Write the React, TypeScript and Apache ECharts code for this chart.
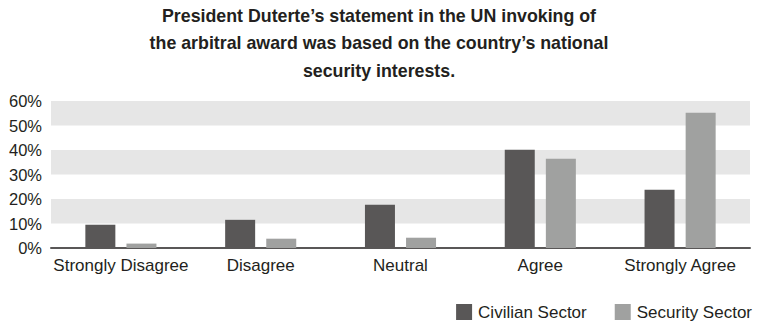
import React, { useEffect, useRef } from "react";
import * as echarts from "echarts";

const categories = ["Strongly Disagree", "Disagree", "Neutral", "Agree", "Strongly Agree"];
const civilian = [9.5, 11.5, 17.7, 40.1, 23.8];
const security = [1.8, 3.8, 4.2, 36.4, 55.2];
const titleText =
  "President Duterte\u2019s statement in the UN invoking of\nthe arbitral award was based on the country\u2019s national\nsecurity interests.";

const FONT = "'Liberation Sans', Arial, Helvetica, sans-serif";

export default function App() {
  const ref = useRef<HTMLDivElement>(null);
  useEffect(() => {
    if (!ref.current) return;
    const chart = echarts.init(ref.current, null, { renderer: "svg" });
    chart.setOption({
      animation: false,
      backgroundColor: "#ffffff",
      title: {
        text: titleText,
        left: 374,
        top: -3,
        textAlign: "center",
        textStyle: {
          fontFamily: FONT,
          fontSize: 17.8,
          fontWeight: "bold",
          color: "#231f20",
          lineHeight: 27.5,
        },
      },
      legend: {
        right: 0,
        top: 302,
        padding: [0, 5, 0, 5],
        itemWidth: 16,
        itemHeight: 16,
        itemGap: 28,
        icon: "rect",
        textStyle: { fontFamily: FONT, fontSize: 17, color: "#231f20", padding: [0, 0, 0, 1], lineHeight: 20 },
        data: ["Civilian Sector", "Security Sector"],
      },
      grid: { left: 51, right: 7, top: 101, bottom: 77, containLabel: false },
      xAxis: {
        type: "category",
        data: categories,
        axisLine: { show: true, lineStyle: { color: "#595757", width: 2 } },
        axisTick: { show: false },
        axisLabel: { interval: 0, fontFamily: FONT, fontSize: 17, color: "#231f20", margin: 9 },
      },
      yAxis: {
        type: "value",
        min: 0,
        max: 60,
        interval: 10,
        axisLine: { show: false },
        axisTick: { show: false },
        splitLine: { show: false },
        splitArea: { show: true, areaStyle: { color: ["#ffffff", "#e6e6e6"] } },
        axisLabel: {
          formatter: "{value}%",
          fontFamily: FONT,
          fontSize: 16.5,
          color: "#231f20",
          margin: 9,
        },
      },
      series: [
        {
          name: "Civilian Sector",
          type: "bar",
          data: civilian,
          barWidth: 30,
          barGap: "37%",
          itemStyle: { color: "#595757" },
        },
        {
          name: "Security Sector",
          type: "bar",
          data: security,
          barWidth: 30,
          itemStyle: { color: "#a0a1a0" },
        },
      ],
    });
    return () => chart.dispose();
  }, []);
  return (
    <div
      ref={ref}
      style={{ position: "absolute", left: 0, top: 0, width: 757, height: 325 }}
    />
  );
}
